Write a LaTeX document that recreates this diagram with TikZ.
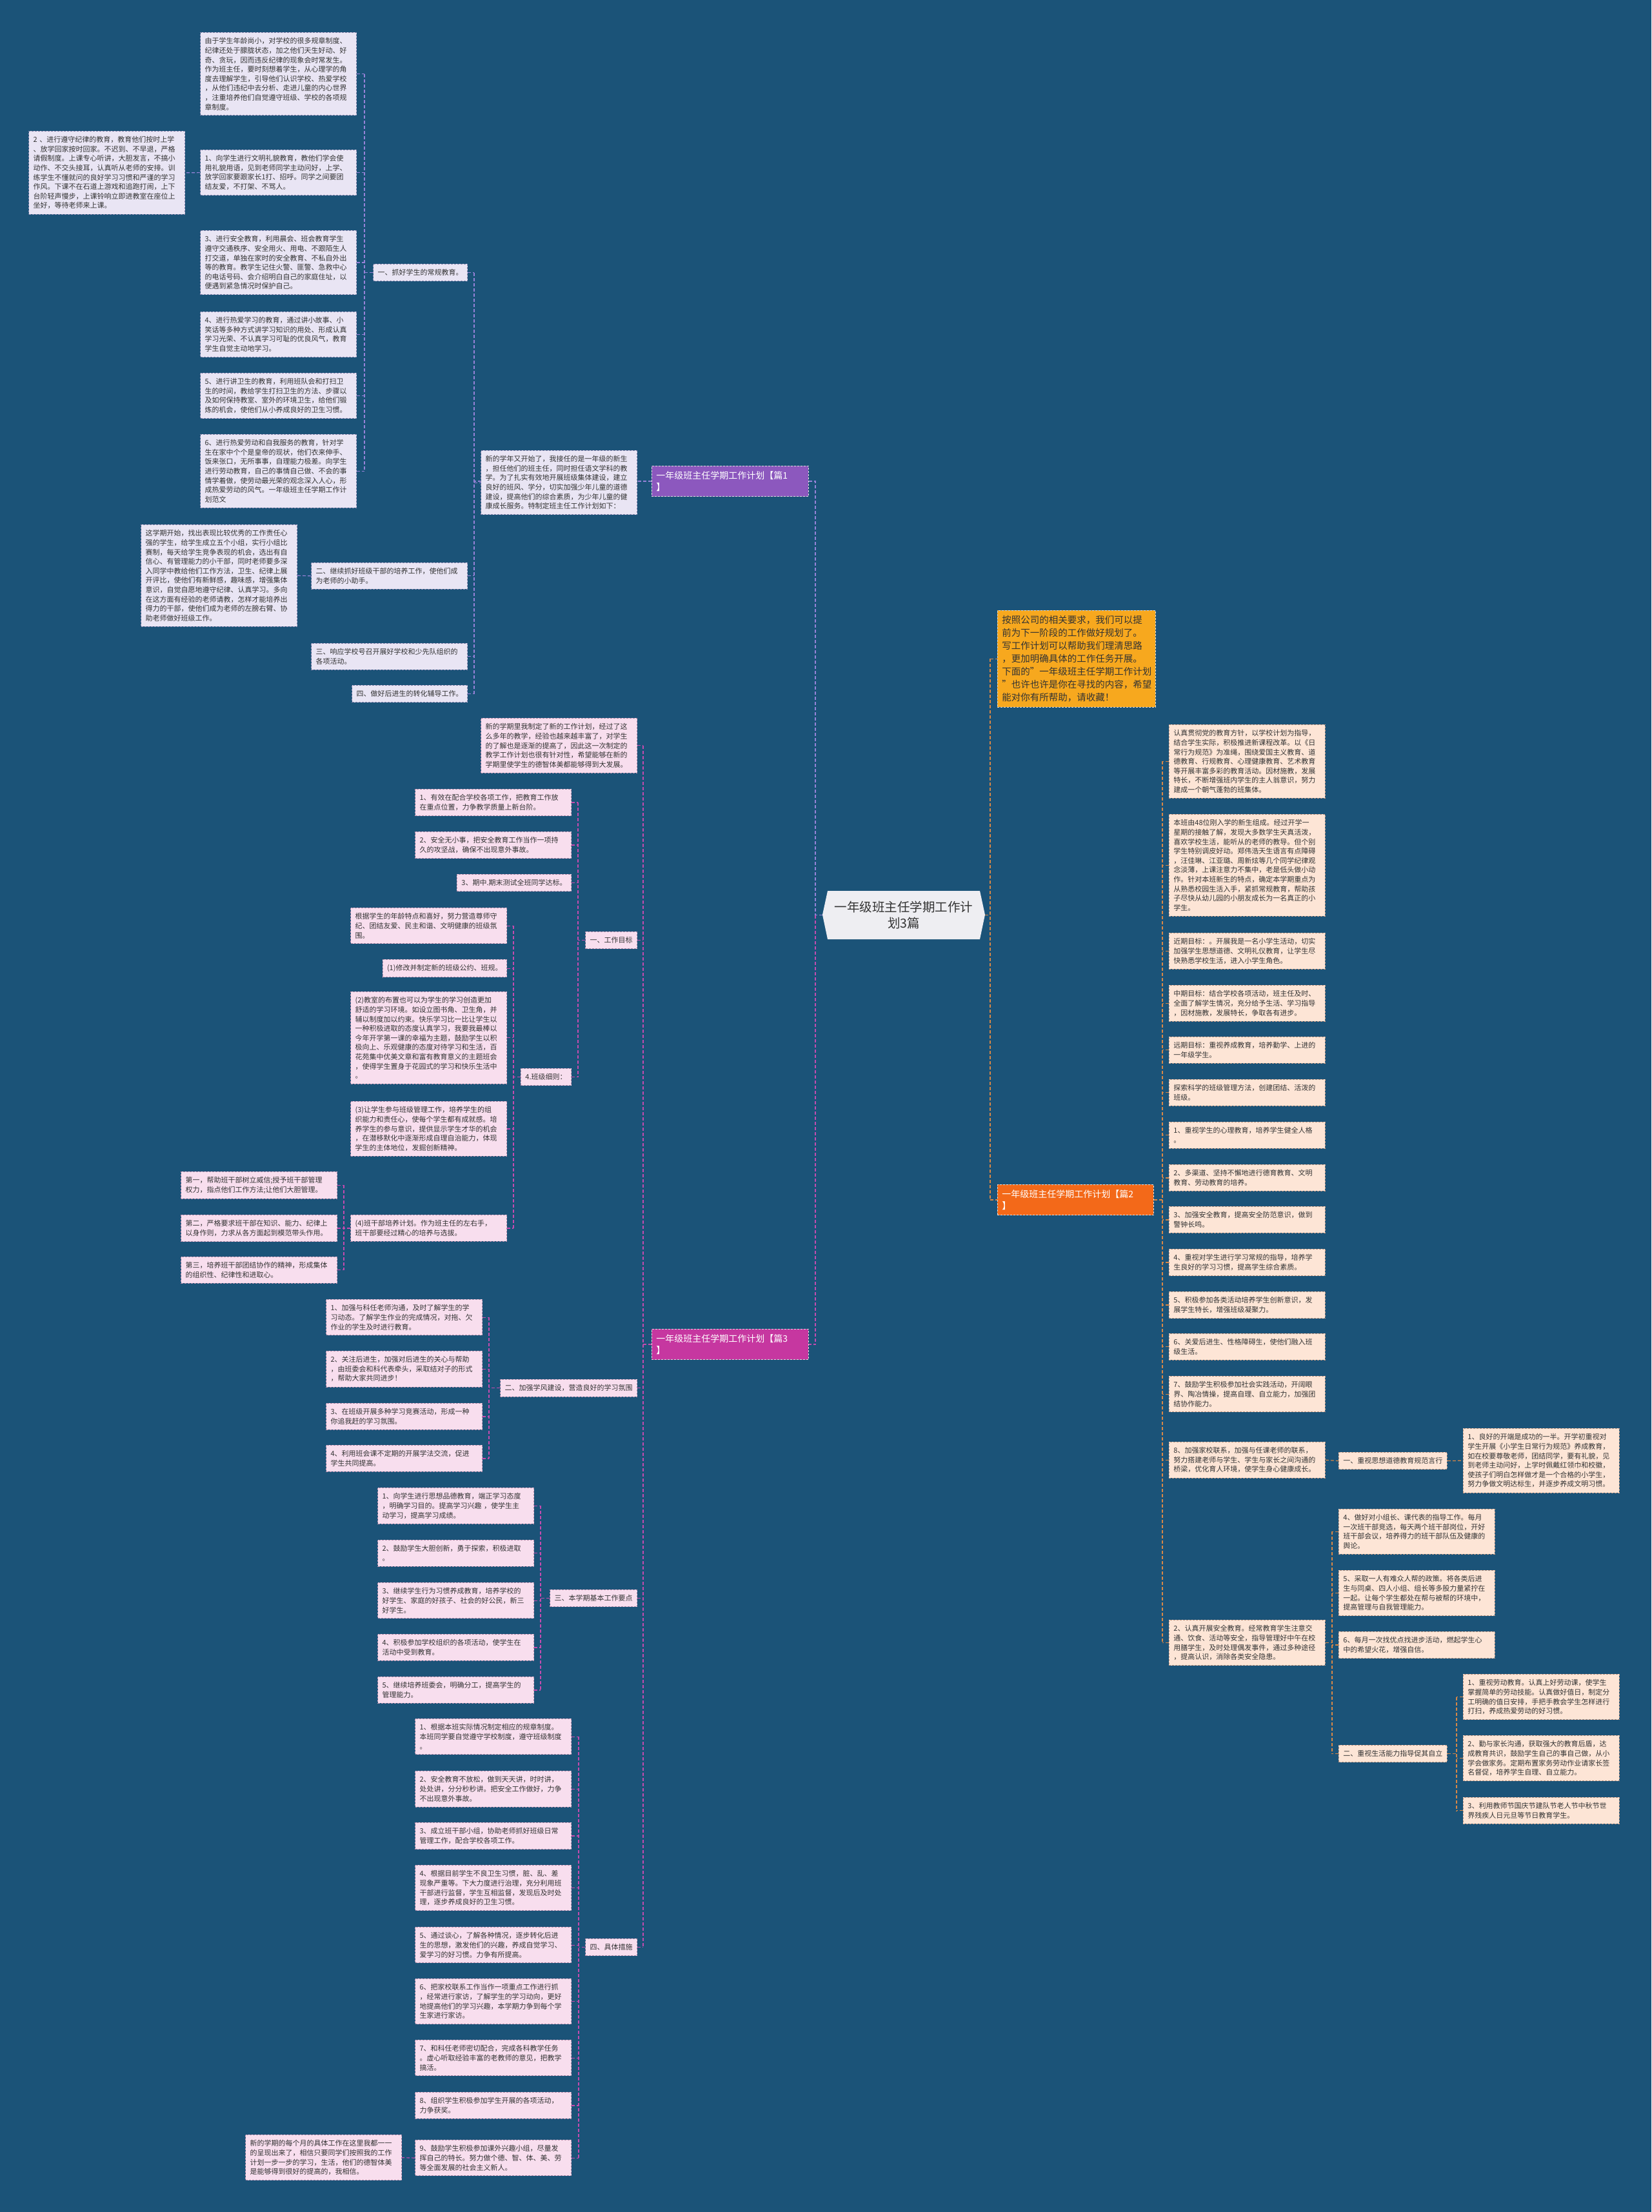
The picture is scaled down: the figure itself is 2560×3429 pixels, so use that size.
\documentclass[tikz,border=0pt]{standalone}
\usepackage{fontspec}
\setmainfont{Noto Sans CJK SC}
\usetikzlibrary{backgrounds}
\definecolor{bgc}{RGB}{27,83,120}
\definecolor{txt}{RGB}{51,51,51}
\definecolor{lavf}{RGB}{233,229,244}
\definecolor{lavd}{RGB}{140,135,175}
\definecolor{pinkf}{RGB}{248,222,238}
\definecolor{pinkd}{RGB}{180,140,170}
\definecolor{peachf}{RGB}{253,229,214}
\definecolor{peachd}{RGB}{190,150,130}
\definecolor{cc1}{RGB}{150,130,215}
\definecolor{cc3}{RGB}{195,75,175}
\definecolor{cc2}{RGB}{215,135,70}
\definecolor{t1c}{RGB}{140,88,190}
\definecolor{t3c}{RGB}{198,55,160}
\definecolor{t2c}{RGB}{243,105,25}
\definecolor{oic}{RGB}{247,168,30}
\definecolor{ctrf}{RGB}{238,238,242}
\tikzset{
 boxbase/.style={dashed, dash pattern=on 3pt off 2pt, line width=0.9pt, inner xsep=7pt, inner ysep=8pt, align=left, font=\fontsize{11}{14.6}\selectfont, text=txt},
 wide/.style={text width=228pt},
 lbox/.style={boxbase, anchor=north east, fill=lavf, draw=lavd},
 pbox/.style={boxbase, anchor=north east, fill=pinkf, draw=pinkd},
 rbox/.style={boxbase, anchor=north west, fill=peachf, draw=peachd},
 titlebox/.style={anchor=north west, text width=229pt, inner xsep=7pt, inner ysep=8pt, align=left, font=\fontsize{14}{18}\selectfont, text=white, draw=white!75!gray, dashed, dash pattern=on 3pt off 2pt, line width=0.9pt},
 con1/.style={draw=cc1, line width=1.2pt, dash pattern=on 5pt off 3pt},
 con3/.style={draw=cc3, line width=1.2pt, dash pattern=on 5pt off 3pt},
 con2/.style={draw=cc2, line width=1.2pt, dash pattern=on 5pt off 3pt},
}
\newcommand\LB[6]{%
  \draw[#1] (#2.west) -- (#2.west -| #3);
  \draw[#1] (#4.east -| #3) -- (#5.east -| #3);
  \foreach \nd in {#6}{\draw[#1] (\nd.east) -- (\nd.east -| #3);}}
\newcommand\RB[6]{%
  \draw[#1] (#2.east) -- (#2.east -| #3);
  \draw[#1] (#4.west -| #3) -- (#5.west -| #3);
  \foreach \nd in {#6}{\draw[#1] (\nd.west) -- (\nd.west -| #3);}}
\begin{document}
\begin{tikzpicture}[x=1pt,y=-1pt]
\begin{scope}[on background layer]
\fill[bgc] (0,0) rectangle (2560,3429);
\end{scope}
% ---------- center ----------
\fill[ctrf] (1283,1381) -- (1519,1381) -- (1527,1418) -- (1519,1456) -- (1283,1456) -- (1275,1418) -- cycle;
\node[minimum width=252pt, minimum height=75pt, inner sep=0pt, align=center, font=\fontsize{19.5}{25}\selectfont, text=txt] (ctr) at (1401,1418.5) {一年级班主任学期工作计\\划3篇};
% bracket coordinates
\coordinate (BCL) at (1264,0);
\coordinate (BCR) at (1535,0);
\coordinate (BT1) at (735,0);
\coordinate (BA1) at (565,0);
\coordinate (BT3) at (997,0);
\coordinate (BG1) at (896,0);
\coordinate (BH) at (796,0);
\coordinate (BH5) at (533,0);
\coordinate (BG2) at (758,0);
\coordinate (BG3) at (838,0);
\coordinate (BG4) at (897,0);
\coordinate (BT2) at (1802,0);
\coordinate (BR15) at (2065,0);
\coordinate (BU2) at (2258,0);
% ---------- part 1 ----------
\node[titlebox, fill=t1c] (t1) at (1010,722) {一年级班主任学期工作计划【篇1\\】};
\node[lbox, wide] (i1) at (988,698) {新的学年又开始了，我接任的是一年级的新生\\，担任他们的班主任，同时担任语文学科的教\\学。为了扎实有效地开展班级集体建设，建立\\良好的班风、学分，切实加强少年儿童的道德\\建设，提高他们的综合素质，为少年儿童的健\\康成长服务。特制定班主任工作计划如下：};
\node[lbox] (a1) at (725,409) {一、抓好学生的常规教育。};
\node[lbox, wide] (a1c1) at (553,50) {由于学生年龄尚小，对学校的很多规章制度、\\纪律还处于朦胧状态，加之他们天生好动、好\\奇、贪玩，因而违反纪律的现象会时常发生。\\作为班主任，要时刻想着学生，从心理学的角\\度去理解学生，引导他们认识学校、热爱学校\\，从他们违纪中去分析、走进儿童的内心世界\\，注重培养他们自觉遵守班级、学校的各项规\\章制度。};
\node[lbox, wide] (a1c2) at (553,232) {1、向学生进行文明礼貌教育，教他们学会使\\用礼貌用语，见到老师同学主动问好，上学、\\放学回家要跟家长1打、招呼。同学之间要团\\结友爱，不打架、不骂人。};
\node[lbox, wide] (a1c2c) at (287,203) {2 、进行遵守纪律的教育，教育他们按时上学\\、放学回家按时回家。不迟到、不早退，严格\\请假制度。上课专心听讲，大胆发言，不搞小\\动作、不交头接耳，认真听从老师的安排。训\\练学生不懂就问的良好学习习惯和严谨的学习\\作风。下课不在石道上游戏和追跑打闹，上下\\台阶轻声慢步，上课铃响立即进教室在座位上\\坐好，等待老师来上课。};
\node[lbox, wide] (a1c3) at (553,357) {3、进行安全教育，利用晨会、班会教育学生\\遵守交通秩序、安全用火、用电、不跟陌生人\\打交道，单独在家时的安全教育、不私自外出\\等的教育。教学生记住火警、匪警、急救中心\\的电话号码、会介绍明白自己的家庭住址，以\\便遇到紧急情况时保护自己。};
\node[lbox, wide] (a1c4) at (553,483) {4、进行热爱学习的教育，通过讲小故事、小\\笑话等多种方式讲学习知识的用处、形成认真\\学习光荣、不认真学习可耻的优良风气，教育\\学生自觉主动地学习。};
\node[lbox, wide] (a1c5) at (553,578) {5、进行讲卫生的教育，利用班队会和打扫卫\\生的时间，教给学生打扫卫生的方法、步骤以\\及如何保持教室、室外的环境卫生，给他们锻\\炼的机会，使他们从小养成良好的卫生习惯。};
\node[lbox, wide] (a1c6) at (553,673) {6、进行热爱劳动和自我服务的教育，针对学\\生在家中个个是皇帝的现状，他们衣来伸手、\\饭来张口，无所事事，自理能力极差。向学生\\进行劳动教育，自己的事情自己做、不会的事\\情学着做，使劳动最光荣的观念深入人心，形\\成热爱劳动的风气。一年级班主任学期工作计\\划范文};
\node[lbox, wide] (a2) at (725,872) {二、继续抓好班级干部的培养工作，使他们成\\为老师的小助手。};
\node[lbox, wide] (a2c) at (461,813) {这学期开始，找出表现比较优秀的工作责任心\\强的学生，给学生成立五个小组，实行小组比\\赛制，每天给学生竞争表现的机会，选出有自\\信心、有管理能力的小干部，同时老师要多深\\入同学中教给他们工作方法，卫生、纪律上展\\开评比，使他们有新鲜感，趣味感，增强集体\\意识，自觉自愿地遵守纪律、认真学习。多向\\在这方面有经验的老师请教，怎样才能培养出\\得力的干部，使他们成为老师的左膀右臂、协\\助老师做好班级工作。};
\node[lbox, wide] (a3) at (725,997) {三、响应学校号召开展好学校和少先队组织的\\各项活动。};
\node[lbox] (a4) at (725,1062) {四、做好后进生的转化辅导工作。};
% ---------- part 3 ----------
\node[titlebox, fill=t3c] (t3) at (1010,2060) {一年级班主任学期工作计划【篇3\\】};
\node[pbox, wide] (i3) at (988,1113) {新的学期里我制定了新的工作计划，经过了这\\么多年的教学，经验也越来越丰富了，对学生\\的了解也是逐渐的提高了，因此这一次制定的\\教学工作计划也很有针对性，希望能够在新的\\学期里使学生的德智体美都能够得到大发展。};
\node[pbox] (g1) at (988,1444) {一、工作目标};
\node[pbox, wide] (g1c1) at (886,1223) {1、有效在配合学校各项工作，把教育工作放\\在重点位置，力争教学质量上新台阶。};
\node[pbox, wide] (g1c2) at (886,1289) {2、安全无小事，把安全教育工作当作一项持\\久的攻坚战，确保不出现意外事故。};
\node[pbox] (g1c3) at (886,1355) {3、期中.期末测试全班同学达标。};
\node[pbox] (g1c4) at (886,1656) {4.班级细则：};
\node[pbox, wide] (h1) at (786,1407) {根据学生的年龄特点和喜好，努力营造尊师守\\纪、团结友爱、民主和谐、文明健康的班级氛\\围。};
\node[pbox] (h2) at (786,1487) {(1)修改并制定新的班级公约、班规。};
\node[pbox, wide] (h3) at (786,1537) {(2)教室的布置也可以为学生的学习创造更加\\舒适的学习环境。如设立图书角、卫生角，并\\辅以制度加以约束。快乐学习比一比让学生以\\一种积极进取的态度认真学习，我要我最棒以\\今年开学第一课的幸福为主题，鼓励学生以积\\极向上、乐观健康的态度对待学习和生活，百\\花苑集中优美文章和富有教育意义的主题班会\\，使得学生置身于花园式的学习和快乐生活中\\。};
\node[pbox, wide] (h4) at (786,1707) {(3)让学生参与班级管理工作，培养学生的组\\织能力和责任心，使每个学生都有成就感。培\\养学生的参与意识，提供显示学生才华的机会\\，在潜移默化中逐渐形成自理自治能力，体现\\学生的主体地位，发掘创新精神。};
\node[pbox, wide] (h5) at (786,1883) {(4)班干部培养计划。作为班主任的左右手，\\班干部要经过精心的培养与选拔。};
\node[pbox, wide] (h5a) at (523,1816) {第一，帮助班干部树立威信;授予班干部管理\\权力，指点他们工作方法;让他们大胆管理。};
\node[pbox, wide] (h5b) at (523,1883) {第二，严格要求班干部在知识、能力、纪律上\\以身作则，力求从各方面起到模范带头作用。};
\node[pbox, wide] (h5c) at (523,1948) {第三，培养班干部团结协作的精神，形成集体\\的组织性、纪律性和进取心。};
\node[pbox] (g2) at (988,2138) {二、加强学风建设，营造良好的学习氛围};
\node[pbox, wide] (g2c1) at (748,2014) {1、加强与科任老师沟通，及时了解学生的学\\习动态。了解学生作业的完成情况，对拖、欠\\作业的学生及时进行教育。};
\node[pbox, wide] (g2c2) at (748,2094) {2、关注后进生，加强对后进生的关心与帮助\\，由班委会和科代表牵头，采取结对子的形式\\，帮助大家共同进步！};
\node[pbox, wide] (g2c3) at (748,2175) {3、在班级开展多种学习竞赛活动，形成一种\\你追我赶的学习氛围。};
\node[pbox, wide] (g2c4) at (748,2240) {4、利用班会课不定期的开展学法交流，促进\\学生共同提高。};
\node[pbox] (g3) at (988,2464) {三、本学期基本工作要点};
\node[pbox, wide] (g3c1) at (828,2306) {1、向学生进行思想品德教育，端正学习态度\\，明确学习目的。提高学习兴趣 ，使学生主\\动学习，提高学习成绩。};
\node[pbox, wide] (g3c2) at (828,2387) {2、鼓励学生大胆创新，勇于探索，积极进取\\。};
\node[pbox, wide] (g3c3) at (828,2453) {3、继续学生行为习惯养成教育，培养学校的\\好学生、家庭的好孩子、社会的好公民，新三\\好学生。};
\node[pbox, wide] (g3c4) at (828,2533) {4、积极参加学校组织的各项活动，使学生在\\活动中受到教育。};
\node[pbox, wide] (g3c5) at (828,2599) {5、继续培养班委会，明确分工，提高学生的\\管理能力。};
\node[pbox] (g4) at (988,3005) {四、具体措施};
\node[pbox, wide] (g4c1) at (886,2664) {1、根据本班实际情况制定相应的规章制度。\\本班同学要自觉遵守学校制度，遵守班级制度\\。};
\node[pbox, wide] (g4c2) at (886,2745) {2、安全教育不放松，做到天天讲，时时讲，\\处处讲，分分秒秒讲。把安全工作做好，力争\\不出现意外事故。};
\node[pbox, wide] (g4c3) at (886,2825) {3、成立班干部小组，协助老师抓好班级日常\\管理工作，配合学校各项工作。};
\node[pbox, wide] (g4c4) at (886,2891) {4、根据目前学生不良卫生习惯，脏、乱、差\\现象严重等。下大力度进行治理，充分利用班\\干部进行监督，学生互相监督，发现后及时处\\理，逐步养成良好的卫生习惯。};
\node[pbox, wide] (g4c5) at (886,2987) {5、通过谈心，了解各种情况，逐步转化后进\\生的思想，激发他们的兴趣，养成自觉学习、\\爱学习的好习惯。力争有所提高。};
\node[pbox, wide] (g4c6) at (886,3067) {6、把家校联系工作当作一项重点工作进行抓\\，经常进行家访，了解学生的学习动向，更好\\地提高他们的学习兴趣，本学期力争到每个学\\生家进行家访。};
\node[pbox, wide] (g4c7) at (886,3162) {7、和科任老师密切配合，完成各科教学任务\\。虚心听取经验丰富的老教师的意见，把教学\\搞活。};
\node[pbox, wide] (g4c8) at (886,3243) {8、组织学生积极参加学生开展的各项活动，\\力争获奖。};
\node[pbox, wide] (g4c9) at (886,3317) {9、鼓励学生积极参加课外兴趣小组，尽量发\\挥自己的特长。努力做个德、智、体、美、劳\\等全面发展的社会主义新人。};
\node[pbox, wide] (g4c9c) at (623,3309) {新的学期的每个月的具体工作在这里我都一一\\的呈现出来了，相信只要同学们按照我的工作\\计划一步一步的学习，生活，他们的德智体美\\是能够得到很好的提高的，我相信。};
% ---------- right side ----------
\node[anchor=north west, fill=oic, draw=white!70!gray, dashed, dash pattern=on 3pt off 2pt, line width=0.9pt, text width=231pt, inner xsep=7pt, inner ysep=8pt, align=left, font=\fontsize{14.5}{20}\selectfont, text=txt] (oi) at (1546,946) {按照公司的相关要求，我们可以提\\前为下一阶段的工作做好规划了。\\写工作计划可以帮助我们理清思路\\，更加明确具体的工作任务开展。\\下面的"一年级班主任学期工作计划\\"也许也许是你在寻找的内容，希望\\能对你有所帮助，请收藏！};
\node[titlebox, fill=t2c, text width=228pt] (t2) at (1546,1836) {一年级班主任学期工作计划【篇2\\】};
\node[rbox, wide] (r1) at (1812,1123) {认真贯彻党的教育方针，以学校计划为指导，\\结合学生实际，积极推进新课程改革。以《日\\常行为规范》为准绳，围绕爱国主义教育、道\\德教育、行规教育、心理健康教育、艺术教育\\等开展丰富多彩的教育活动。因材施教，发展\\特长，不断增强班内学生的主人翁意识，努力\\建成一个朝气蓬勃的班集体。};
\node[rbox, wide] (r2) at (1812,1262) {本班由48位刚入学的新生组成。经过开学一\\星期的接触了解，发现大多数学生天真活泼，\\喜欢学校生活，能听从的老师的教导。但个别\\学生特别调皮好动。郑伟浩天生语言有点障碍\\，汪佳琳、江亚璐、周新炫等几个同学纪律观\\念淡薄，上课注意力不集中，老是低头做小动\\作。针对本班新生的特点，确定本学期重点为\\从熟悉校园生活入手，紧抓常规教育，帮助孩\\子尽快从幼儿园的小朋友成长为一名真正的小\\学生。};
\node[rbox, wide] (r3) at (1812,1446) {近期目标：。开展我是一名小学生活动，切实\\加强学生思想道德、文明礼仪教育，让学生尽\\快熟悉学校生活，进入小学生角色。};
\node[rbox, wide] (r4) at (1812,1527) {中期目标：结合学校各项活动，班主任及时、\\全面了解学生情况，充分给予生活、学习指导\\，因材施教，发展特长，争取各有进步。};
\node[rbox, wide] (r5) at (1812,1607) {远期目标：重视养成教育，培养勤学、上进的\\一年级学生。};
\node[rbox, wide] (r6) at (1812,1673) {探索科学的班级管理方法，创建团结、活泼的\\班级。};
\node[rbox, wide] (r7) at (1812,1739) {1、重视学生的心理教育，培养学生健全人格\\。};
\node[rbox, wide] (r8) at (1812,1805) {2、多渠道、坚持不懈地进行德育教育、文明\\教育、劳动教育的培养。};
\node[rbox, wide] (r9) at (1812,1870) {3、加强安全教育，提高安全防范意识，做到\\警钟长鸣。};
\node[rbox, wide] (r10) at (1812,1936) {4、重视对学生进行学习常规的指导，培养学\\生良好的学习习惯，提高学生综合素质。};
\node[rbox, wide] (r11) at (1812,2002) {5、积极参加各类活动培养学生创新意识，发\\展学生特长，增强班级凝聚力。};
\node[rbox, wide] (r12) at (1812,2067) {6、关爱后进生、性格障碍生，使他们融入班\\级生活。};
\node[rbox, wide] (r13) at (1812,2133) {7、鼓励学生积极参加社会实践活动，开阔眼\\界、陶冶情操，提高自理、自立能力，加强团\\结协作能力。};
\node[rbox, wide] (r14) at (1812,2235) {8、加强家校联系，加强与任课老师的联系，\\努力搭建老师与学生、学生与家长之间沟通的\\桥梁，优化育人环境，使学生身心健康成长。};
\node[rbox, wide] (r15) at (1812,2511) {2、认真开展安全教育。经常教育学生注意交\\通、饮食、活动等安全，指导管理好中午在校\\用膳学生，及时处理偶发事件，通过多种途径\\，提高认识，消除各类安全隐患。};
\node[rbox] (s1) at (2075,2251) {一、重视思想道德教育规范言行};
\node[rbox, wide] (s1c) at (2268,2214) {1、良好的开端是成功的一半。开学初重视对\\学生开展《小学生日常行为规范》养成教育，\\如在校要尊敬老师，团结同学，要有礼貌，见\\到老师主动问好，上学时佩戴红领巾和校徽，\\使孩子们明白怎样做才是一个合格的小学生，\\努力争做文明达标生，并逐步养成文明习惯。};
\node[rbox, wide] (u4) at (2075,2339) {4、做好对小组长、课代表的指导工作。每月\\一次班干部竞选，每天两个班干部岗位，开好\\班干部会议，培养得力的班干部队伍及健康的\\舆论。};
\node[rbox, wide] (u5) at (2075,2434) {5、采取一人有难众人帮的政策。将各类后进\\生与同桌、四人小组、组长等多股力量紧拧在\\一起。让每个学生都处在帮与被帮的环境中，\\提高管理与自我管理能力。};
\node[rbox, wide] (u6) at (2075,2529) {6、每月一次找优点找进步活动，燃起学生心\\中的希望火花，增强自信。};
\node[rbox] (u2) at (2075,2705) {二、重视生活能力指导促其自立};
\node[rbox, wide] (u2a) at (2268,2595) {1、重视劳动教育。认真上好劳动课，使学生\\掌握简单的劳动技能。认真做好值日，制定分\\工明确的值日安排，手把手教会学生怎样进行\\打扫，养成热爱劳动的好习惯。};
\node[rbox, wide] (u2b) at (2268,2690) {2、勤与家长沟通，获取强大的教育后盾，达\\成教育共识，鼓励学生自己的事自己做，从小\\学会做家务。定期布置家务劳动作业请家长签\\名督促，培养学生自理、自立能力。};
\node[rbox, wide] (u2c) at (2268,2786) {3、利用教师节国庆节建队节老人节中秋节世\\界残疾人日元旦等节日教育学生。};
% ---------- connectors ----------
\begin{scope}[on background layer]
\draw[con1] (ctr.west) -- (ctr.west -| BCL) -- (t1.east -| BCL) -- (t1.east);
\draw[con3] (ctr.west -| BCL) -- (t3.east -| BCL) -- (t3.east);
\draw[con2] (ctr.east) -- (ctr.east -| BCR);
\draw[con2] (oi.west -| BCR) -- (t2.west -| BCR);
\draw[con2] (oi.west -| BCR) -- (oi.west);
\draw[con2] (t2.west -| BCR) -- (t2.west);
\LB{con1}{t1}{BT1}{a1}{a4}{i1,a1,a2,a3,a4}
\LB{con1}{a1}{BA1}{a1c1}{a1c6}{a1c1,a1c2,a1c3,a1c4,a1c5,a1c6}
\draw[con1] (a1c2.west) -- (a1c2c.east);
\draw[con1] (a2.west) -- (a2c.east);
\LB{con3}{t3}{BT3}{i3}{g4}{i3,g1,g2,g3,g4}
\LB{con3}{g1}{BG1}{g1c1}{g1c4}{g1c1,g1c2,g1c3,g1c4}
\LB{con3}{g1c4}{BH}{h1}{h5}{h1,h2,h3,h4,h5}
\LB{con3}{h5}{BH5}{h5a}{h5c}{h5a,h5b,h5c}
\LB{con3}{g2}{BG2}{g2c1}{g2c4}{g2c1,g2c2,g2c3,g2c4}
\LB{con3}{g3}{BG3}{g3c1}{g3c5}{g3c1,g3c2,g3c3,g3c4,g3c5}
\LB{con3}{g4}{BG4}{g4c1}{g4c9}{g4c1,g4c2,g4c3,g4c4,g4c5,g4c6,g4c7,g4c8,g4c9}
\draw[con3] (g4c9.west) -- (g4c9c.east);
\RB{con2}{t2}{BT2}{r1}{r15}{r1,r2,r3,r4,r5,r6,r7,r8,r9,r10,r11,r12,r13,r14,r15}
\draw[con2] (r14.east) -- (s1.west);
\draw[con2] (s1.east) -- (s1c.west);
\RB{con2}{r15}{BR15}{u4}{u2}{u4,u5,u6,u2}
\RB{con2}{u2}{BU2}{u2a}{u2c}{u2a,u2b,u2c}
\end{scope}
\end{tikzpicture}
\end{document}
